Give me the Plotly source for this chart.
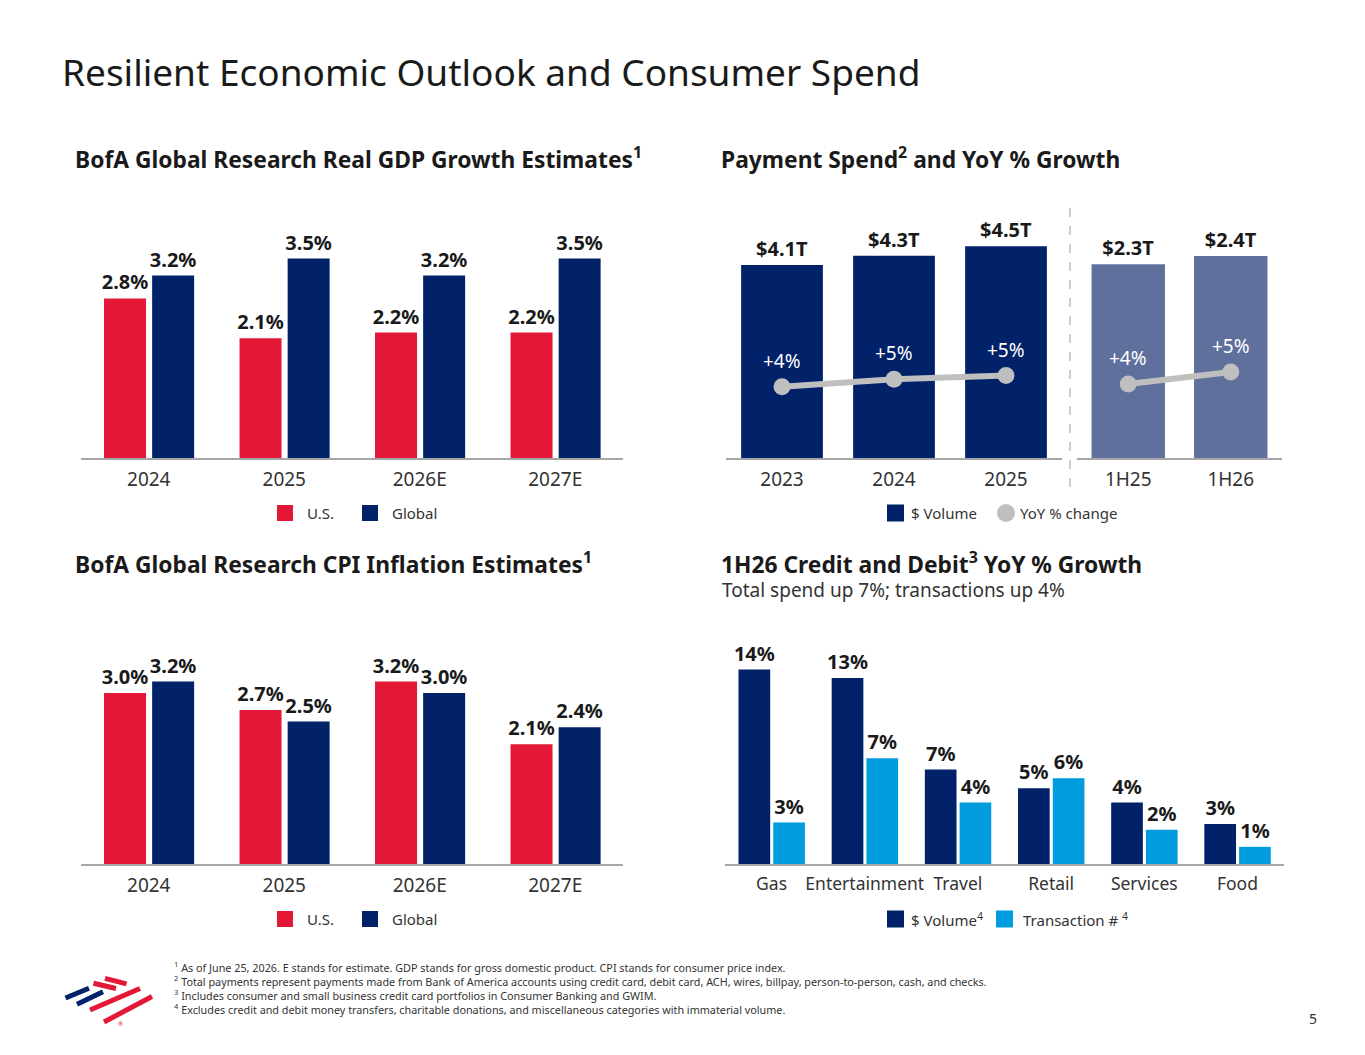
import plotly.graph_objects as go

# page is rendered with an 8px body margin; figure fills the rest of the window
OFF = 8
W, H = 1365 - 2 * OFF, 1055 - 2 * OFF
def X(p):
    return (p - OFF) / W
def Y(p):
    return 1 - (p - OFF) / H

# ---------------- data ----------------
gdp_years = ["2024", "2025", "2026E", "2027E"]
gdp_us = [2.8, 2.1, 2.2, 2.2]
gdp_global = [3.2, 3.5, 3.2, 3.5]

cpi_years = ["2024", "2025", "2026E", "2027E"]
cpi_us = [3.0, 2.7, 3.2, 2.1]
cpi_global = [3.2, 2.5, 3.0, 2.4]

pay_years = ["2023", "2024", "2025"]
pay_volume = [4.1, 4.3, 4.5]
pay_yoy = [4.0, 4.8, 5.2]
pay_yoy_labels = ["+4%", "+5%", "+5%"]

half_periods = ["1H25", "1H26"]
half_volume = [2.3, 2.4]
half_yoy = [4.0, 5.3]
half_yoy_labels = ["+4%", "+5%"]

spend_cats = ["Gas", "Entertainment", "Travel", "Retail", "Services", "Food"]
spend_volume = [13.6, 13.0, 6.6, 5.3, 4.3, 2.8]
spend_trans = [2.9, 7.4, 4.3, 6.0, 2.4, 1.2]

footnotes = [
    "<sup>1</sup> As of June 25, 2026. E stands for estimate. GDP stands for gross domestic product. CPI stands for consumer price index.",
    "<sup>2</sup> Total payments represent payments made from Bank of America accounts using credit card, debit card, ACH, wires, billpay, person-to-person, cash, and checks.",
    "<sup>3</sup> Includes consumer and small business credit card portfolios in Consumer Banking and GWIM.",
    "<sup>4</sup> Excludes credit and debit money transfers, charitable donations, and miscellaneous categories with immaterial volume.",
]

# ---------------- style ----------------
FONT = "Noto Sans"
RED = "#E31837"
NAVY = "#012169"
NAVY_LIGHT = "#5F709D"
LBLUE = "#009CDE"
GRAY = "#BFBFBF"
TXT = "#333333"
DARK = "#1A1A1A"
LBL = dict(family=FONT, size=20, color=DARK, weight=700)

fig = go.Figure()

def bars(x, y, xa, ya, color, width, offset, tmpl):
    fig.add_trace(go.Bar(
        x=x, y=y, xaxis=xa, yaxis=ya, marker=dict(color=color, line=dict(width=0)),
        width=width, offset=offset, texttemplate=tmpl, textposition="outside",
        textfont=LBL, cliponaxis=False, constraintext="none", showlegend=False,
        hoverinfo="skip"))

# GDP
bars(gdp_years, gdp_us, "x", "y", RED, 0.31, -0.33, "%{y:.1f}%")
bars(gdp_years, gdp_global, "x", "y", NAVY, 0.31, 0.025, "%{y:.1f}%")
# CPI
bars(cpi_years, cpi_us, "x4", "y6", RED, 0.31, -0.33, "%{y:.1f}%")
bars(cpi_years, cpi_global, "x4", "y6", NAVY, 0.31, 0.025, "%{y:.1f}%")
# Payment spend
bars(pay_years, pay_volume, "x2", "y2", NAVY, 0.73, -0.365, "$%{y:.1f}T")
bars(half_periods, half_volume, "x3", "y4", NAVY_LIGHT, 0.716, -0.358, "$%{y:.1f}T")
# Credit / debit
bars(spend_cats, spend_volume, "x5", "y7", NAVY, 0.34, -0.355, "%{y:.0f}%")
bars(spend_cats, spend_trans, "x5", "y7", LBLUE, 0.34, 0.018, "%{y:.0f}%")

# YoY lines
for xs, ys, xa, ya in [(pay_years, pay_yoy, "x2", "y3"), (half_periods, half_yoy, "x3", "y5")]:
    fig.add_trace(go.Scatter(
        x=xs, y=ys, xaxis=xa, yaxis=ya, mode="lines+markers",
        line=dict(color=GRAY, width=6), marker=dict(color=GRAY, size=17),
        cliponaxis=False, showlegend=False, hoverinfo="skip"))

annotations = []
for xs, ys, labs, xa, ya in [(pay_years, pay_yoy, pay_yoy_labels, "x2", "y3"),
                             (half_periods, half_yoy, half_yoy_labels, "x3", "y5")]:
    for i, (yv, t) in enumerate(zip(ys, labs)):
        annotations.append(dict(x=i, y=yv, xref=xa, yref=ya, text=t, showarrow=False,
                                yshift=26, font=dict(family=FONT, size=19, color="white")))

def xaxis(d0, d1, anchor, n, fs=19):
    return dict(domain=[X(d0), X(d1)], anchor=anchor, type="category", range=[-0.5, n - 0.5],
                showline=True, linecolor="#A6A6A6", linewidth=1.5, ticks="", showgrid=False,
                zeroline=False, tickfont=dict(family=FONT, size=fs, color=TXT),
                ticklabelstandoff=3, fixedrange=True)

def yaxis(b, t, anchor, r):
    return dict(domain=[Y(b), Y(t)], anchor=anchor, range=r, visible=False, showgrid=False,
                zeroline=False, fixedrange=True)

layout = dict(
    width=W, height=H, margin=dict(l=0, r=0, t=0, b=0),
    paper_bgcolor="white", plot_bgcolor="rgba(0,0,0,0)", barmode="overlay",
    font=dict(family=FONT, color=TXT),
    xaxis=xaxis(81, 623, "y", 4),
    yaxis=yaxis(458, 200, "x", [0, 258 / 57.0]),
    xaxis2=xaxis(726, 1062, "y2", 3),
    yaxis2=yaxis(458, 200, "x2", [0, 258 / 47.05]),
    yaxis3=dict(overlaying="y2", anchor="x2", range=[-3.708, 24.18], visible=False, fixedrange=True),
    xaxis3=xaxis(1077, 1282, "y4", 2),
    yaxis4=yaxis(458, 200, "x3", [0, 258 / 84.2]),
    yaxis5=dict(overlaying="y4", anchor="x3", range=[-4.0, 23.89], visible=False, fixedrange=True),
    xaxis4=xaxis(81, 623, "y6", 4),
    yaxis6=yaxis(864, 606, "x4", [0, 258 / 57.0]),
    xaxis5=xaxis(725, 1284, "y7", 6, fs=17.5),
    yaxis7=yaxis(864, 606, "x5", [0, 258 / 14.3]),
)

def text(x, y, t, size, color=TXT, weight=400, xanchor="left"):
    annotations.append(dict(x=X(x), y=Y(y), xref="paper", yref="paper", text=t, showarrow=False,
                            xanchor=xanchor, yanchor="middle",
                            font=dict(family=FONT, size=size, color=color, weight=weight)))

# titles
text(60, 71, "Resilient Economic Outlook and Consumer Spend", 37, DARK)
text(73, 158, "BofA Global Research Real GDP Growth Estimates<sup>1</sup>", 22.8, DARK, 700)
text(719, 158, "Payment Spend<sup>2</sup> and YoY % Growth", 22.8, DARK, 700)
text(73, 563, "BofA Global Research CPI Inflation Estimates<sup>1</sup>", 22.8, DARK, 700)
text(719, 563, "1H26 Credit and Debit<sup>3</sup> YoY % Growth", 22.8, DARK, 700)
text(720, 590, "Total spend up 7%; transactions up 4%", 19, TXT)

shapes = []
def sq(x0, yc, color, size=16, circle=False):
    shapes.append(dict(type="circle" if circle else "rect", xref="paper", yref="paper",
                       x0=X(x0), x1=X(x0 + size), y0=Y(yc + size / 2), y1=Y(yc - size / 2),
                       fillcolor=color, line=dict(width=0)))

# legends
for yc in (513, 919):
    sq(277, yc, RED); text(305, yc, "U.S.", 15)
    sq(362, yc, NAVY); text(390, yc, "Global", 15)
sq(887, 513, NAVY, 17); text(909, 513, "$ Volume", 15)
sq(997, 513, GRAY, 18, circle=True); text(1018, 513, "YoY % change", 15)
sq(887, 919, NAVY, 17); text(909, 919, "$ Volume<sup>4</sup>", 15)
sq(996, 919, LBLUE, 17); text(1021, 919, "Transaction # <sup>4</sup>", 15)

# divider
shapes.append(dict(type="line", xref="paper", yref="paper", x0=X(1070), x1=X(1070),
                   y0=Y(208), y1=Y(492), line=dict(color="#BDBDBD", width=1.5, dash="dash")))

# footnotes
for i, t in enumerate(footnotes):
    text(172, 967 + 14 * i, t, 10.8, TXT)
text(1319, 1018, "5", 14, TXT, xanchor="right")

# logo
stripes = [
    ((105.0, 978.3), (126.5, 983.8), RED),
    ((93.5, 983.3), (116.0, 988.5), RED),
    ((90.0, 1010.0), (140.0, 988.5), RED),
    ((104.0, 1022.0), (152.0, 996.5), RED),
    ((65.5, 998.0), (89.0, 988.2), NAVY),
    ((77.0, 1004.3), (103.0, 991.8), NAVY),
]
for (a, b, c) in stripes:
    shapes.append(dict(type="line", xref="paper", yref="paper", x0=X(a[0]), y0=Y(a[1]),
                       x1=X(b[0]), y1=Y(b[1]), line=dict(color=c, width=5)))
text(120, 1024, "®", 6, RED, xanchor="center")

layout["annotations"] = annotations
layout["shapes"] = shapes
fig.update_layout(**layout)
fig.write_html("out.html")
